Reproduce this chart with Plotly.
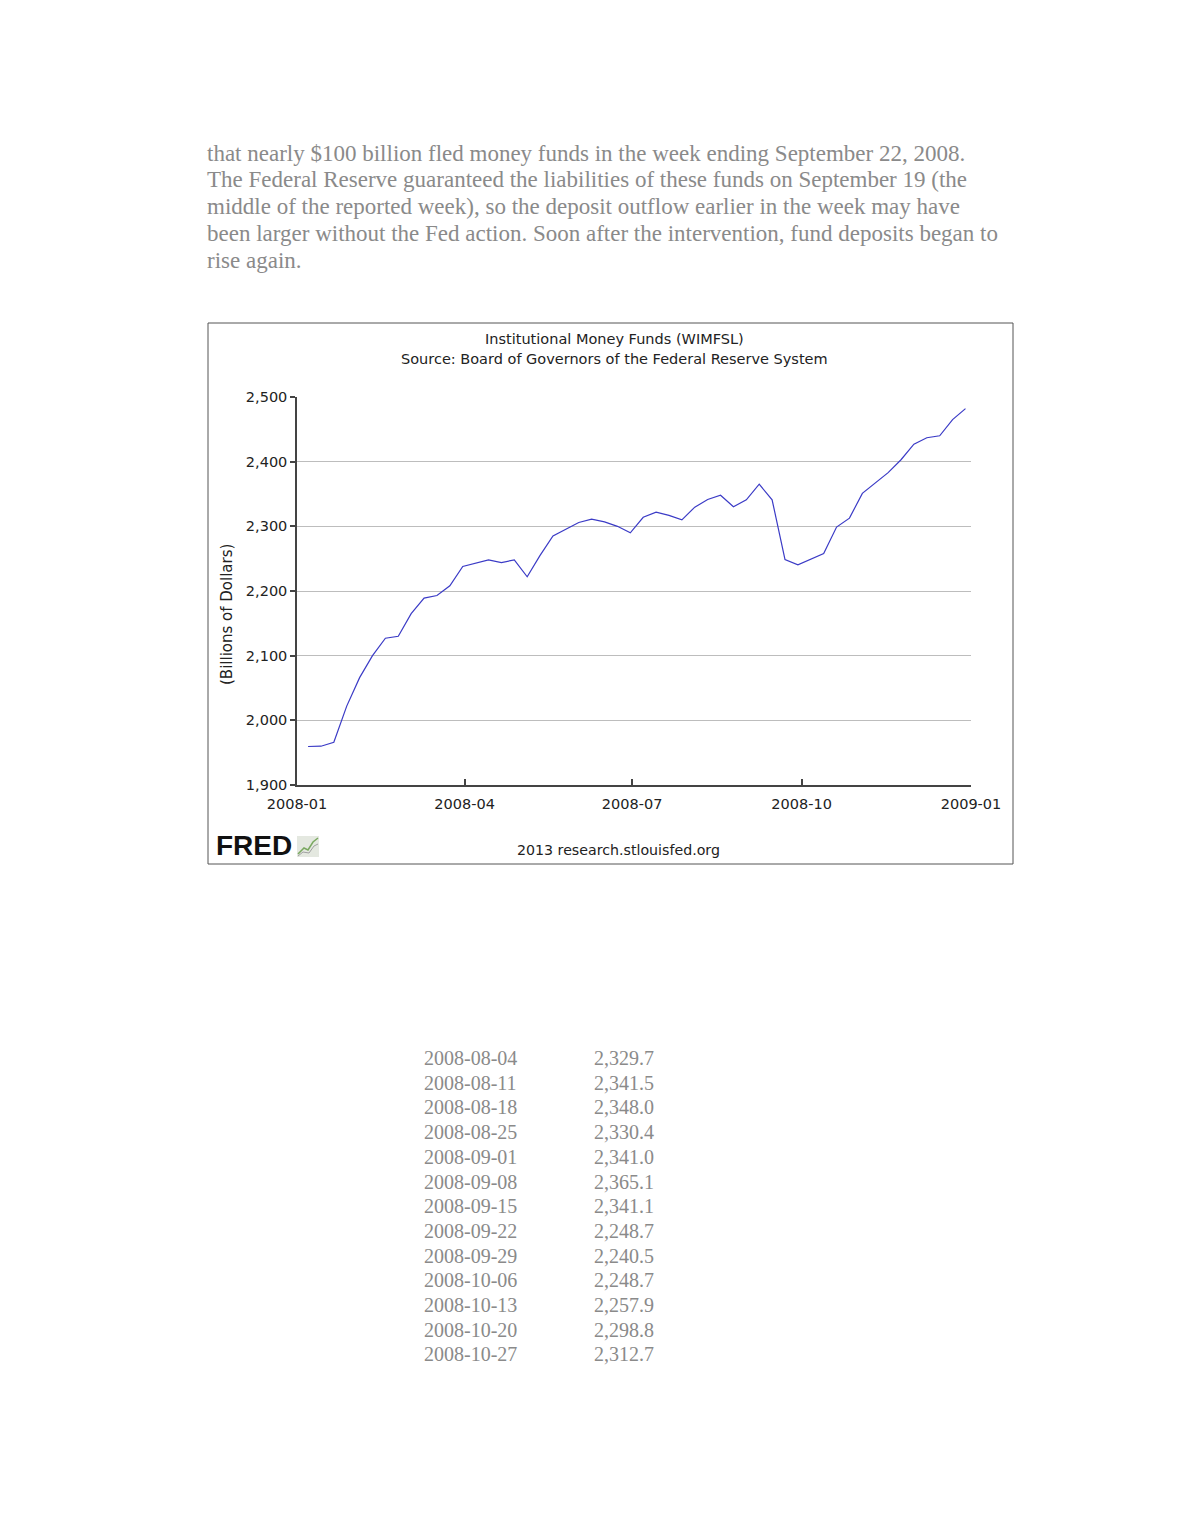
import plotly.graph_objects as go

dates = [
    "2008-01-07", "2008-01-14", "2008-01-21", "2008-01-28",
    "2008-02-04", "2008-02-11", "2008-02-18", "2008-02-25",
    "2008-03-03", "2008-03-10", "2008-03-17", "2008-03-24", "2008-03-31",
    "2008-04-07", "2008-04-14", "2008-04-21", "2008-04-28",
    "2008-05-05", "2008-05-12", "2008-05-19", "2008-05-26",
    "2008-06-02", "2008-06-09", "2008-06-16", "2008-06-23", "2008-06-30",
    "2008-07-07", "2008-07-14", "2008-07-21", "2008-07-28",
    "2008-08-04", "2008-08-11", "2008-08-18", "2008-08-25",
    "2008-09-01", "2008-09-08", "2008-09-15", "2008-09-22", "2008-09-29",
    "2008-10-06", "2008-10-13", "2008-10-20", "2008-10-27",
    "2008-11-03", "2008-11-10", "2008-11-17", "2008-11-24",
    "2008-12-01", "2008-12-08", "2008-12-15", "2008-12-22", "2008-12-29",
]
values = [
    1959.5, 1960.0, 1966.0, 2022.0,
    2066.0, 2100.0, 2127.0, 2130.0,
    2165.0, 2189.0, 2193.0, 2208.0, 2238.0,
    2243.0, 2248.0, 2244.0, 2248.0,
    2222.0, 2255.0, 2285.0, 2296.0,
    2306.0, 2311.0, 2307.0, 2300.0, 2290.0,
    2314.0, 2322.0, 2317.0, 2310.0,
    2329.7, 2341.5, 2348.0, 2330.4,
    2341.0, 2365.1, 2341.1, 2248.7, 2240.5,
    2248.7, 2257.9, 2298.8, 2312.7,
    2351.0, 2367.0, 2383.0, 2403.0,
    2427.0, 2437.0, 2440.0, 2465.0, 2482.0,
]

y_ticks = [1900, 2000, 2100, 2200, 2300, 2400, 2500]

# text on the page around the chart
paragraph = [
    "that nearly $100 billion fled money funds in the week ending September 22, 2008.",
    "The Federal Reserve guaranteed the liabilities of these funds on September 19 (the",
    "middle of the reported week), so the deposit outflow earlier in the week may have",
    "been larger without the Fed action. Soon after the intervention, fund deposits began to",
    "rise again.",
]
table_dates = ["2008-08-04", "2008-08-11", "2008-08-18", "2008-08-25", "2008-09-01",
               "2008-09-08", "2008-09-15", "2008-09-22", "2008-09-29", "2008-10-06",
               "2008-10-13", "2008-10-20", "2008-10-27"]
table_values = ["2,329.7", "2,341.5", "2,348.0", "2,330.4", "2,341.0", "2,365.1",
                "2,341.1", "2,248.7", "2,240.5", "2,248.7", "2,257.9", "2,298.8",
                "2,312.7"]

# page pixels; the html body adds an 8px margin around the figure
OFF = 8
FW, FH = 1180 - 2 * OFF, 1527 - 2 * OFF
PL, PR, PT, PB = 297, 971, 397, 785  # plot area in page pixels


def px(x):
    return (x - PL) / (PR - PL)


def py(y):
    return (PB - y) / (PB - PT)


fig = go.Figure(
    go.Scatter(
        x=dates,
        y=values,
        mode="lines",
        line=dict(color="#3b3bc6", width=1.2),
        hoverinfo="x+y",
    )
)

annotations = []


def note(text, x, y, size=14, color="#222", font="DejaVu Sans", xanchor="center", **kw):
    annotations.append(dict(
        text=text, x=px(x), y=py(y), xref="paper", yref="paper",
        showarrow=False, xanchor=xanchor, yanchor="middle",
        font=dict(size=size, color=color, family=font), **kw,
    ))


note("Institutional Money Funds (WIMFSL)", 614, 339, size=14.5)
note("Source: Board of Governors of the Federal Reserve System", 614, 359, size=14.5)
note("(Billions of Dollars)", 227, 615, size=15, textangle=-90)
note("2013 research.stlouisfed.org", 618, 850, size=14.2)
note("<b>FRED</b>", 214, 845, size=28, color="#111", font="Liberation Sans", xanchor="left")

for i, line in enumerate(paragraph):
    note(line, 205, 153 + i * 26.8, size=23, color="#8a8a8a",
         font="Liberation Serif", xanchor="left")

for i, (d, v) in enumerate(zip(table_dates, table_values)):
    note(d, 422, 1058 + i * 24.7, size=20, color="#8a8a8a",
         font="Liberation Serif", xanchor="left")
    note(v, 592, 1058 + i * 24.7, size=20, color="#8a8a8a",
         font="Liberation Serif", xanchor="left")

shapes = [
    # chart frame
    dict(type="rect", xref="paper", yref="paper",
         x0=px(208), x1=px(1013), y0=py(864), y1=py(323),
         line=dict(color="#555", width=1)),
    # little chart icon next to the FRED logo
    dict(type="rect", xref="paper", yref="paper",
         x0=px(297), x1=px(319), y0=py(857), y1=py(836),
         line=dict(width=0), fillcolor="#e4e8e0"),
    dict(type="path", xref="paper", yref="paper",
         path=f"M {px(298)} {py(854)} L {px(304)} {py(848)} L {px(308)} {py(850)} "
              f"L {px(313)} {py(842)} L {px(318)} {py(838)}",
         line=dict(color="#7aa860", width=1.5)),
    dict(type="path", xref="paper", yref="paper",
         path=f"M {px(298)} {py(856)} L {px(303)} {py(852)} L {px(309)} {py(853)} "
              f"L {px(314)} {py(846)} L {px(318)} {py(844)}",
         line=dict(color="#a0a0a0", width=1)),
]

fig.update_layout(
    width=FW,
    height=FH,
    margin=dict(l=PL - OFF, r=FW - (PR - OFF), t=PT - OFF, b=FH - (PB - OFF), pad=0),
    paper_bgcolor="white",
    plot_bgcolor="white",
    showlegend=False,
    font=dict(family="DejaVu Sans", size=14, color="#222"),
    xaxis=dict(
        range=["2008-01-01", "2009-01-01"],
        tickformat="%Y-%m",
        dtick="M3",
        tick0="2008-01-01",
        ticks="inside",
        ticklen=6,
        tickwidth=1.5,
        tickcolor="#444",
        ticklabelstandoff=5,
        showgrid=False,
        zeroline=False,
        showline=True,
        linecolor="#444",
        linewidth=1.5,
        tickfont=dict(size=14.5, color="#222"),
        fixedrange=True,
    ),
    yaxis=dict(
        range=[1900, 2500],
        tickvals=y_ticks,
        ticktext=[f"{v:,}" for v in y_ticks],
        ticks="outside",
        ticklen=5,
        tickwidth=1.5,
        tickcolor="#444",
        showgrid=True,
        gridcolor="#bdbdbd",
        gridwidth=1.2,
        zeroline=False,
        showline=True,
        linecolor="#444",
        linewidth=1.5,
        tickfont=dict(size=14.5, color="#222"),
        fixedrange=True,
    ),
    annotations=annotations,
    shapes=shapes,
)

fig.write_html("out.html")
